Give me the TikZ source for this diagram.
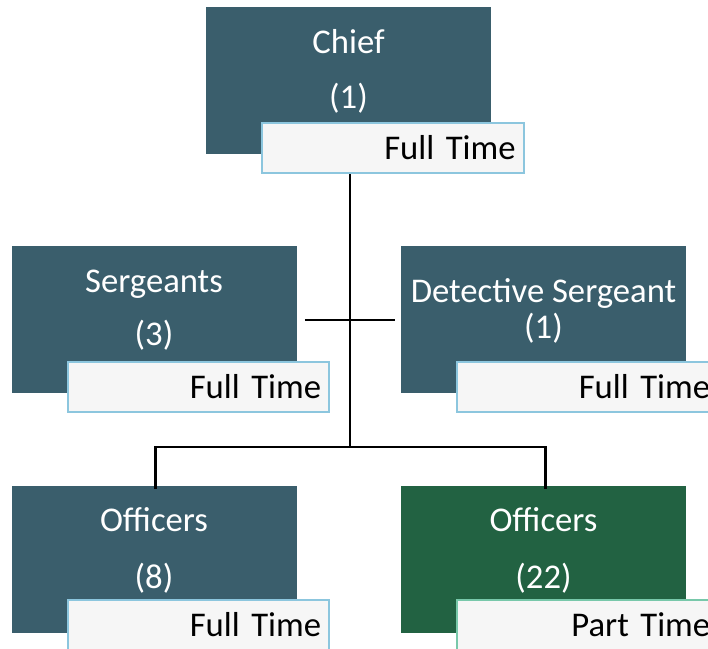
\documentclass[tikz,border=0pt]{standalone}
\usepackage{fontspec}
\setmainfont{Carlito}
\definecolor{slate}{RGB}{58,94,108}
\definecolor{forest}{RGB}{34,98,66}
\definecolor{tagline}{RGB}{140,198,222}
\definecolor{tagteal}{RGB}{120,200,170}
\definecolor{tagfill}{RGB}{246,246,246}
\begin{document}
\begin{tikzpicture}[x=0.75pt,y=-0.75pt,
  rankbox/.style={draw=none,fill=slate,minimum width=213.75pt,minimum height=110.25pt,inner sep=0pt},
  greenbox/.style={rankbox,fill=forest},
  tag/.style={draw=tagline,line width=1.5pt,fill=tagfill,minimum width=196pt,minimum height=38pt,
    inner sep=0pt,text width=184pt,align=right,font=\fontsize{26}{30}\selectfont},
  tagg/.style={tag,draw=tagteal},
  title/.style={text=white,anchor=base,inner sep=0pt,font=\fontsize{26}{30}\selectfont},
  link/.style={line width=2.2pt,black}]
\useasboundingbox (0,0) rectangle (708,649);
\clip (0,0) rectangle (708,649);
\fill[white] (0,0) rectangle (708,649);

% rank boxes
\node[rankbox] (chief) at (348.5,80.5) {};
\node[rankbox] (serg) at (154,319.5) {};
\node[rankbox] (det) at (543.5,319.5) {};
\node[rankbox] (offa) at (154,559) {};
\node[greenbox] (offb) at (543.5,559) {};

% titles
\node[title] (tchief) at (348.5,54) {Chief};
\node[title] (nchief) at (348.5,109) {(1)};
\node[title] (tserg) at (154,293) {Sergeants};
\node[title] (nserg) at (154,346) {(3)};
\node[title] (tdet) at (543.5,303) {Detective Sergeant};
\node[title] (ndet) at (543.5,339) {(1)};
\node[title] (toffa) at (154,532) {Officers};
\node[title] (noffa) at (154,588) {(8)};
\node[title] (toffb) at (543.5,532) {Officers};
\node[title] (noffb) at (543.5,588) {(22)};

% connectors
\coordinate (hub) at (350,447);
\coordinate (mid) at (350,320);
\draw[link] (chief.south -| hub) -- (hub);
\draw[link,shorten <=6pt,shorten >=4pt] (serg.east |- mid) -- (det.west |- mid);
\draw[link] (hub) -| ([xshift=1pt,yshift=-3pt]offa.north);
\draw[link] (hub) -| ([xshift=1.5pt,yshift=-3pt]offb.north);

% employment tags
\node[tag] (lchief) at (393,148) {Full Time};
\node[tag] (lserg) at (198.5,387) {Full Time};
\node[tag] (ldet) at (587.5,387) {Full Time};
\node[tag] (loffa) at (198.5,625) {Full Time};
\node[tagg] (loffb) at (587.5,625) {Part Time};
\end{tikzpicture}
\end{document}
